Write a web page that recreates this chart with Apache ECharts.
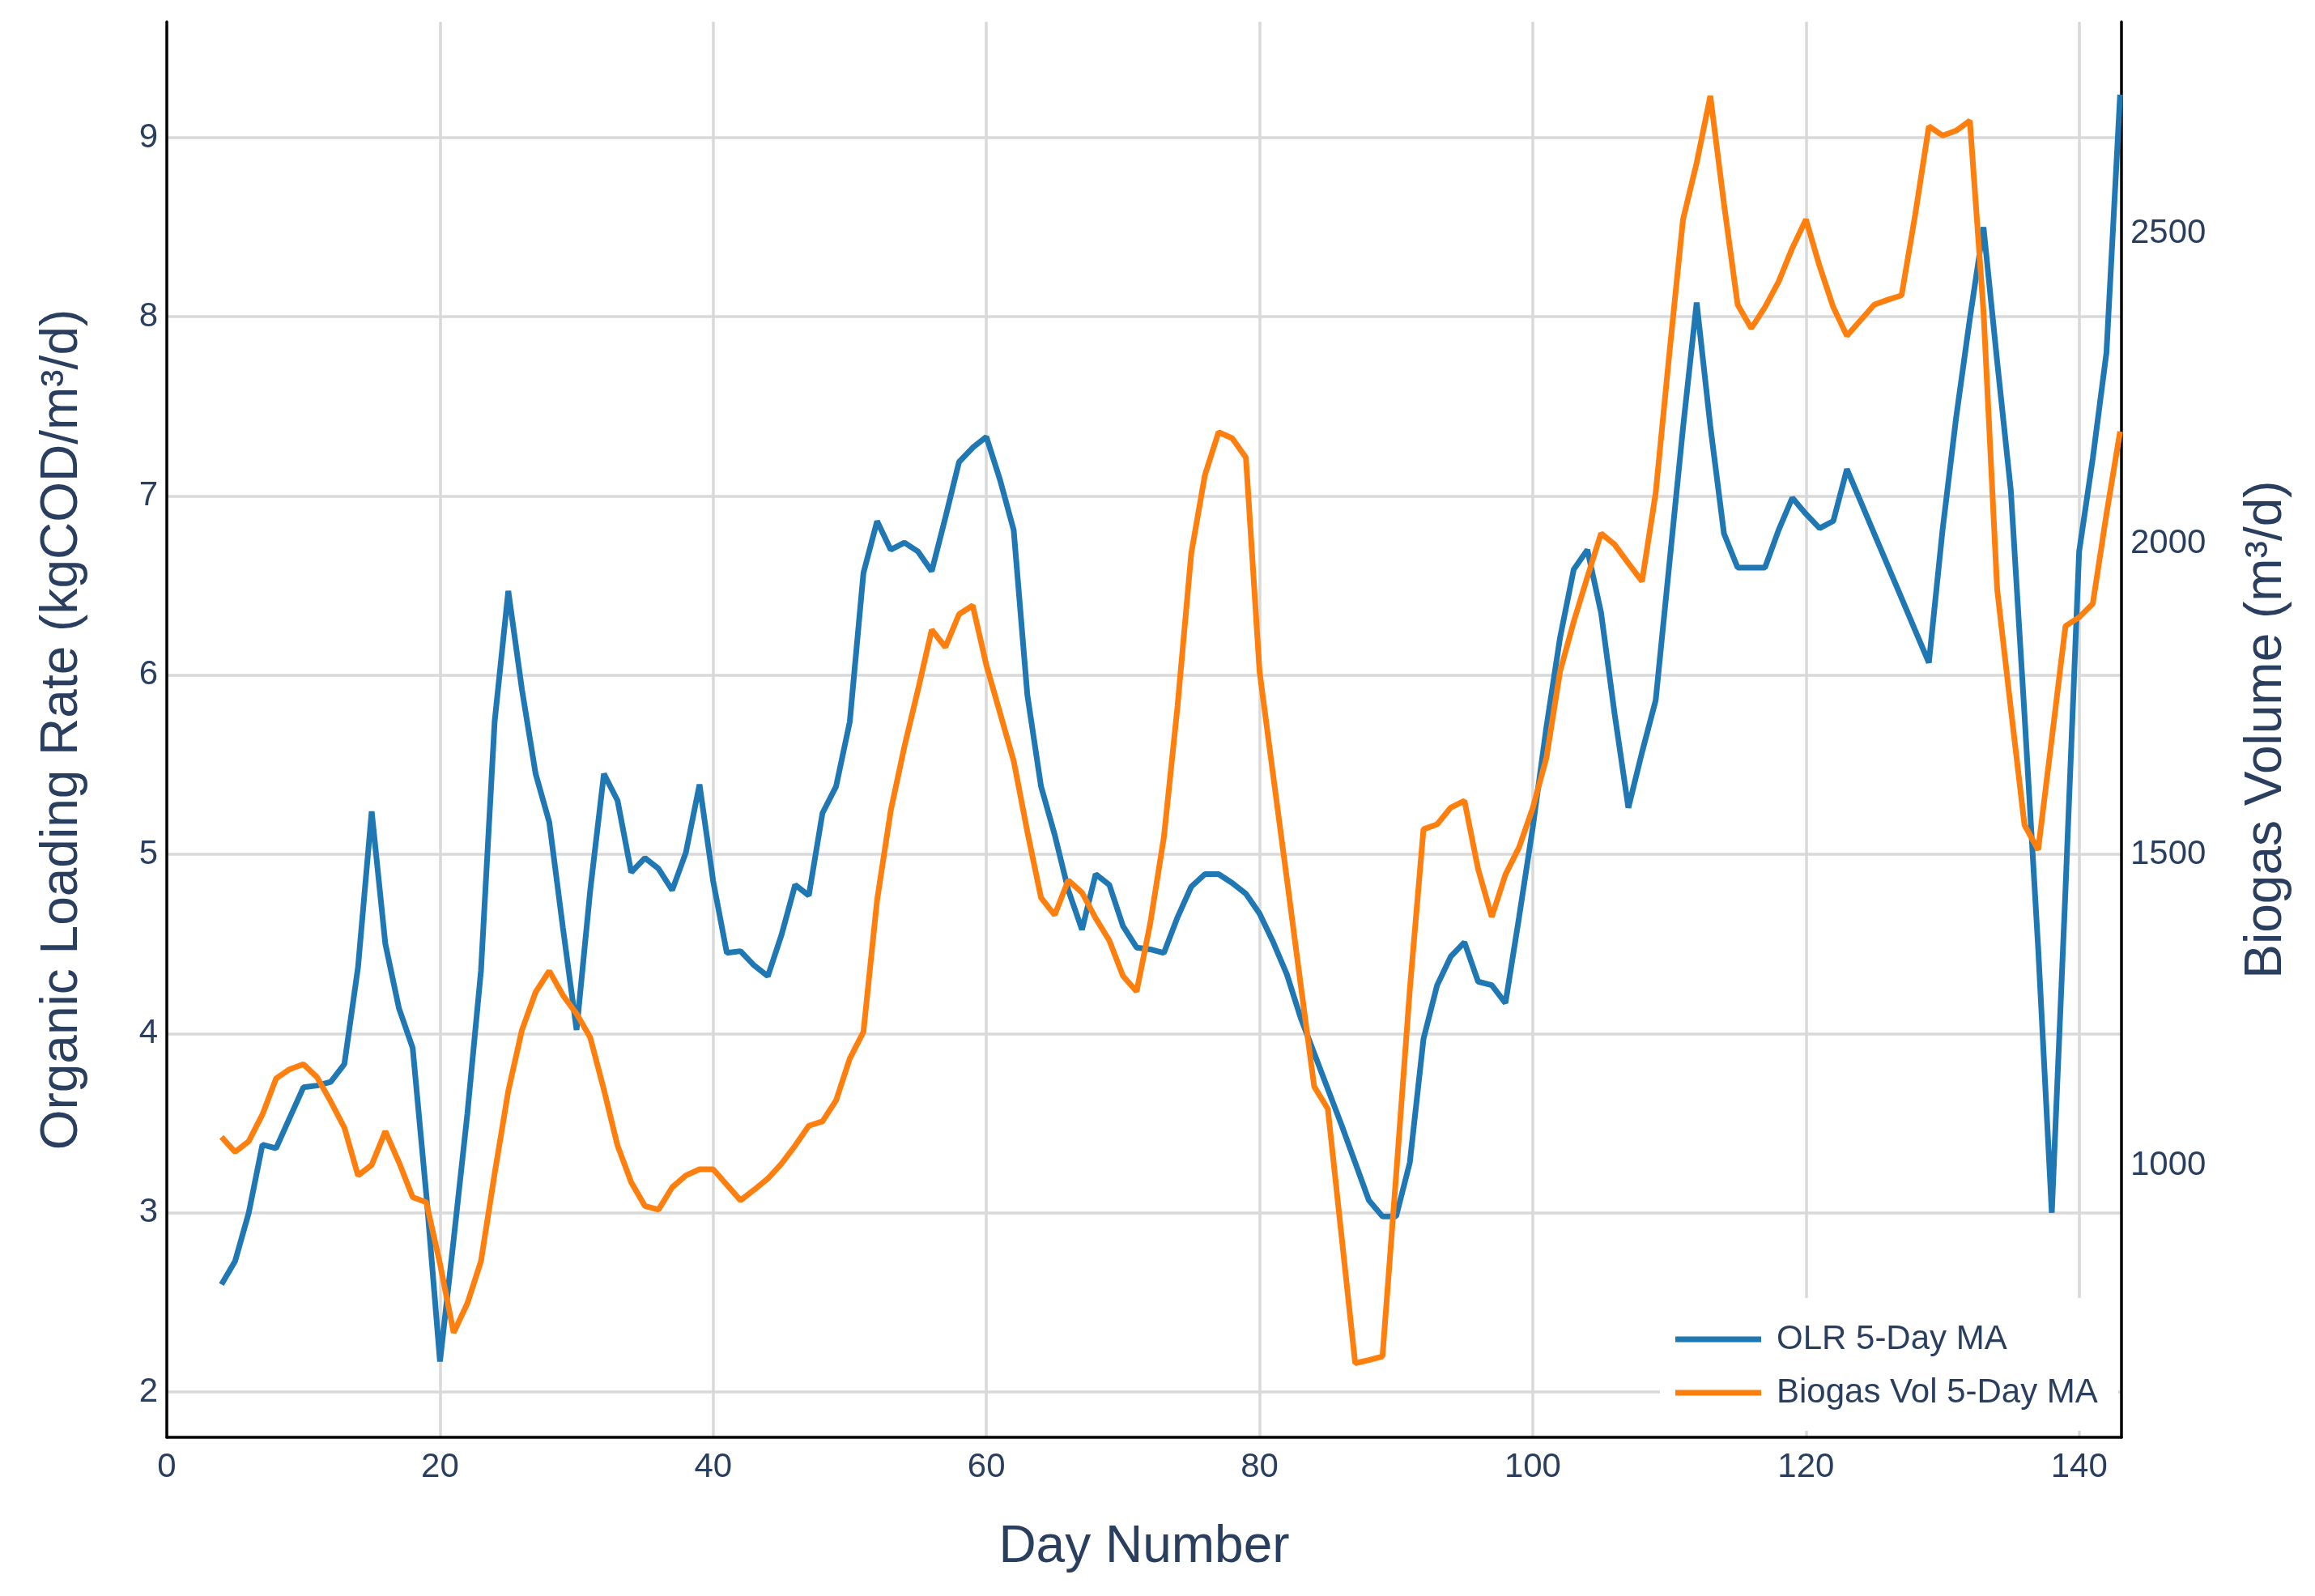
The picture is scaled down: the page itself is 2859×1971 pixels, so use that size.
<!DOCTYPE html>
<html>
<head>
<meta charset="utf-8">
<script src="https://cdn.jsdelivr.net/npm/echarts@6/dist/echarts.min.js"></script>
<style>
  html, body { margin: 0; padding: 0; background: #ffffff; }
  #chart { width: 2859px; height: 1971px; }
</style>
</head>
<body>
<div id="chart"></div>
<script>
// ---- data ----
const days = [
  4,5,6,7,8,9,10,11,12,13,
  14,15,16,17,18,19,20,21,22,23,
  24,25,26,27,28,29,30,31,32,33,
  34,35,36,37,38,39,40,41,42,43,
  44,45,46,47,48,49,50,51,52,53,
  54,55,56,57,58,59,60,61,62,63,
  64,65,66,67,68,69,70,71,72,73,
  74,75,76,77,78,79,80,81,82,83,
  84,85,86,87,88,89,90,91,92,93,
  94,95,96,97,98,99,100,101,102,103,
  104,105,106,107,108,109,110,111,112,113,
  114,115,116,117,118,119,120,121,122,123,
  124,125,126,127,128,129,130,131,132,133,
  134,135,136,137,138,139,140,141,142,143
];

// Organic Loading Rate, 5-day moving average (kgCOD/m³/d)
const olrMA = [
  2.60, 2.73, 3.00, 3.38, 3.36, 3.53, 3.70, 3.71, 3.73, 3.83,
  4.37, 5.24, 4.50, 4.14, 3.92, 3.10, 2.17, 2.85, 3.55, 4.35,
  5.74, 6.47, 5.92, 5.45, 5.18, 4.59, 4.02, 4.80, 5.45, 5.30,
  4.90, 4.98, 4.92, 4.80, 5.01, 5.39, 4.85, 4.45, 4.46, 4.38,
  4.32, 4.55, 4.83, 4.77, 5.23, 5.38, 5.74, 6.57, 6.86, 6.70,
  6.74, 6.69, 6.58, 6.88, 7.19, 7.27, 7.33, 7.09, 6.81, 5.89,
  5.38, 5.11, 4.80, 4.58, 4.89, 4.83, 4.60, 4.48, 4.47, 4.45,
  4.65, 4.82, 4.89, 4.89, 4.84, 4.78, 4.67, 4.51, 4.33, 4.09,
  3.89, 3.69, 3.49, 3.28, 3.07, 2.98, 2.98, 3.28, 3.97, 4.27,
  4.43, 4.51, 4.29, 4.27, 4.17, 4.65, 5.15, 5.71, 6.21, 6.59,
  6.70, 6.35, 5.78, 5.26, 5.57, 5.86, 6.62, 7.38, 8.08, 7.39,
  6.79, 6.60, 6.60, 6.60, 6.81, 6.99, 6.90, 6.82, 6.86, 7.15,
  6.97, 6.79, 6.61, 6.43, 6.25, 6.07, 6.81, 7.44, 7.99, 8.50,
  7.75, 7.03, 5.78, 4.48, 3.00, 4.80, 6.69, 7.21, 7.80, 9.24
];

// Biogas volume, 5-day moving average (m³/d)
const biogasMA = [
  1046, 1022, 1039, 1082, 1140, 1155, 1163, 1142, 1103, 1061,
  984, 1001, 1055, 1005, 949, 941, 842, 731, 778, 846,
  987, 1120, 1218, 1279, 1313, 1274, 1244, 1206, 1122, 1032,
  973, 935, 929, 965, 984, 994, 994, 969, 944, 961,
  979, 1003, 1032, 1064, 1071, 1105, 1172, 1215, 1427, 1571,
  1674, 1766, 1862, 1834, 1887, 1901, 1805, 1728, 1651, 1537,
  1431, 1403, 1459, 1439, 1398, 1362, 1305, 1280, 1390, 1529,
  1740, 1985, 2111, 2180, 2170, 2139, 1795, 1627, 1461, 1293,
  1127, 1091, 887, 682, 687, 693, 985, 1283, 1541, 1549,
  1576, 1587, 1477, 1400, 1468, 1512, 1575, 1656, 1795, 1875,
  1947, 2017, 1999, 1969, 1940, 2082, 2306, 2522, 2613, 2721,
  2547, 2385, 2347, 2381, 2422, 2476, 2522, 2447, 2381, 2335,
  2360, 2385, 2393, 2400, 2530, 2672, 2657, 2665, 2681, 2374,
  1927, 1735, 1548, 1508, 1687, 1868, 1882, 1904, 2048, 2181
];

const seriesNames = ['OLR 5-Day MA', 'Biogas Vol 5-Day MA'];
const axisTitles = {
  x: 'Day Number',
  yLeft: 'Organic Loading Rate (kgCOD/m³/d)',
  yRight: 'Biogas Volume (m³/d)'
};

// ---- chart ----
const FONT = '"Liberation Sans", Arial, Helvetica, sans-serif';
const TXT = '#2a3f5f';
const GRID = '#d9d9d9';
const plainNum = (v) => String(v);

const chart = echarts.init(document.getElementById('chart'), null, { renderer: 'canvas' });

chart.setOption({
  animation: false,
  backgroundColor: '#ffffff',
  textStyle: { fontFamily: FONT },
  grid: { left: 206, right: 239, top: 27, bottom: 196, containLabel: false },
  legend: {
    data: seriesNames,
    orient: 'vertical',
    left: 2050,
    top: 1603,
    backgroundColor: '#ffffff',
    padding: [30, 25, 26, 19],
    icon: 'rect',
    itemWidth: 106,
    itemHeight: 7,
    itemGap: 24,
    textStyle: { fontFamily: FONT, fontSize: 42, color: TXT, padding: [0, 0, 0, 14] }
  },
  xAxis: {
    type: 'value',
    min: 0,
    max: 143.1,
    interval: 20,
    name: axisTitles.x,
    nameLocation: 'middle',
    nameGap: 104,
    nameTextStyle: { fontFamily: FONT, fontSize: 64, color: TXT },
    axisLine: { show: true, onZero: false, lineStyle: { color: '#000000', width: 3.5 } },
    axisTick: { show: false },
    axisLabel: { fontFamily: FONT, fontSize: 42, color: TXT, margin: 16, showMaxLabel: false, formatter: plainNum },
    splitLine: { show: true, showMinLine: false, showMaxLine: false, lineStyle: { color: GRID, width: 3.5 } }
  },
  yAxis: [
    {
      type: 'value',
      position: 'left',
      min: 1.747,
      max: 9.646,
      splitNumber: 8,
      name: axisTitles.yLeft,
      nameLocation: 'middle',
      nameRotate: 90,
      nameGap: 97,
      nameTextStyle: { fontFamily: FONT, fontSize: 64, color: TXT },
      axisLine: { show: true, onZero: false, lineStyle: { color: '#000000', width: 3.5 } },
      axisTick: { show: false },
      axisLabel: { fontFamily: FONT, fontSize: 42, color: TXT, margin: 11, showMinLabel: false, showMaxLabel: false, formatter: plainNum },
      splitLine: { show: true, showMinLine: false, showMaxLine: false, lineStyle: { color: GRID, width: 3.5 } }
    },
    {
      type: 'value',
      position: 'right',
      min: 562.8,
      max: 2840,
      splitNumber: 5,
      alignTicks: false,
      name: axisTitles.yRight,
      nameLocation: 'middle',
      nameRotate: 90,
      nameGap: 147,
      nameTextStyle: { fontFamily: FONT, fontSize: 64, color: TXT },
      axisLine: { show: true, onZero: false, lineStyle: { color: '#000000', width: 3.5 } },
      axisTick: { show: false },
      axisLabel: { fontFamily: FONT, fontSize: 42, color: TXT, margin: 11, showMinLabel: false, showMaxLabel: false, formatter: plainNum },
      splitLine: { show: false }
    }
  ],
  series: [
    {
      name: seriesNames[0],
      type: 'line',
      yAxisIndex: 0,
      symbol: 'none',
      color: '#1f77b4',
      lineStyle: { color: '#1f77b4', width: 7 },
      data: days.map((d, i) => [d, olrMA[i]]),
      z: 3
    },
    {
      name: seriesNames[1],
      type: 'line',
      yAxisIndex: 1,
      symbol: 'none',
      color: '#ff7f0e',
      lineStyle: { color: '#ff7f0e', width: 7 },
      data: days.map((d, i) => [d, biogasMA[i]]),
      z: 4
    }
  ]
});
</script>
</body>
</html>
